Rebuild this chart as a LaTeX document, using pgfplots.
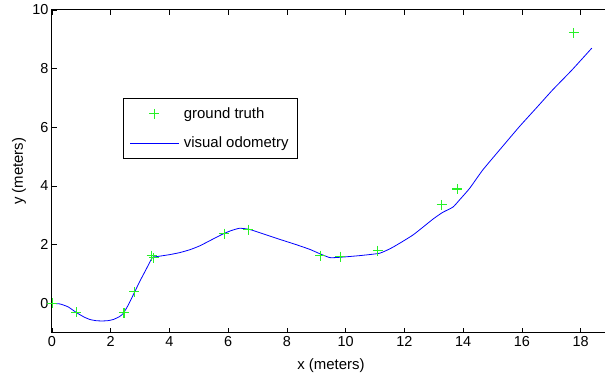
\documentclass[border=0pt]{standalone}
\usepackage{fontspec}
\setmainfont{Liberation Sans}
\usepackage{pgfplots}
\pgfplotsset{compat=1.18}
\definecolor{gtgreen}{RGB}{40,240,40}
\definecolor{voblue}{rgb}{0,0,1}
\begin{document}
\begin{tikzpicture}
\begin{axis}[
  scale only axis,
  width=558bp, height=322.7bp,
  xmin=0, xmax=19, ymin=-1, ymax=10,
  xtick={0,2,...,18}, ytick={0,2,...,10},
  tick align=inside,
  major tick length=5bp,
  tick style={black, line width=0.5bp},
  axis line style={black, line width=1bp},
  clip=false,
  /pgf/number format/assume math mode=true,
  ticklabel style={font=\fontsize{14.5}{17}\selectfont},
  xlabel={x (meters)}, ylabel={y (meters)},
  label style={font=\fontsize{15}{18}\selectfont},
  xlabel style={at={(axis description cs:0.5,-0.103)}, anchor=center},
  ylabel style={at={(axis description cs:-0.059,0.5)}, anchor=center},
  legend image code/.code={\draw[mark repeat=2,mark phase=2,#1] plot coordinates {(0bp,0bp)(24bp,0bp)(48bp,0bp)};},
  legend style={at={(axis description cs:0.1267,0.7264)}, anchor=north west,
    draw=black, line width=0.8bp, font=\fontsize{15}{18}\selectfont,
    inner xsep=7bp, inner ysep=7bp, row sep=13bp, column sep=3bp},
  legend cell align=left,
  reverse legend,
]
\addplot[voblue, line width=0.8bp, mark=none, smooth, tension=0.3] coordinates {
(0,0) (0.27,-0.02) (0.55,-0.12) (0.84,-0.32) (1.1,-0.47) (1.29,-0.55)
(1.5,-0.59) (1.69,-0.6) (1.9,-0.59) (2.09,-0.55) (2.3,-0.45) (2.43,-0.34)
(2.6,-0.05) (2.82,0.4) (3.0,0.77) (3.2,1.15) (3.42,1.57) (3.54,1.59)
(4.0,1.66) (4.35,1.73) (4.7,1.83) (5.03,1.96) (5.4,2.15) (5.83,2.37)
(6.1,2.48) (6.39,2.56) (6.73,2.52) (7.19,2.37) (7.76,2.18) (8.32,2.0)
(8.78,1.84) (9.1,1.7) (9.46,1.56) (9.8,1.57) (10.5,1.63) (11.16,1.71)
(11.6,1.91) (12.29,2.33) (12.97,2.87) (13.3,3.1) (13.65,3.28) (13.88,3.53)
(14.22,3.92) (14.67,4.55) (15.3,5.3) (15.92,6.03) (16.5,6.67) (17.05,7.28)
(17.7,7.95) (18.38,8.7)
};
\addlegendentry{visual odometry}
\addplot[only marks, mark=+, mark size=5bp, draw=gtgreen, mark options={line width=1.1bp, draw=gtgreen, solid}] coordinates {
(0.01,0.01) (0.82,-0.3) (2.45,-0.32) (2.8,0.39) (3.39,1.63) (3.47,1.55)
(5.87,2.38) (6.69,2.51) (9.14,1.63) (9.81,1.59) (11.09,1.8)
(13.27,3.36) (13.8,3.9) (17.77,9.22)
};
\addlegendentry{ground truth}
\end{axis}
\path (current axis.south west) ++(-52bp,-43.3bp) coordinate (bl);
\path (current axis.north west) ++(553bp,10bp) coordinate (tr);
\pgfresetboundingbox
\useasboundingbox (bl) rectangle (tr);
\end{tikzpicture}
\end{document}
